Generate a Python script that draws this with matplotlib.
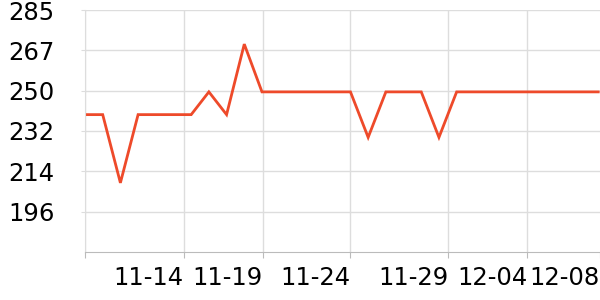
import numpy as np
import matplotlib
matplotlib.use("Agg")
import matplotlib.pyplot as plt

# daily values, one point per day
values = [239, 239, 209, 239, 239, 239, 239, 249, 239, 270,
          249, 249, 249, 249, 249, 249, 229, 249, 249, 249,
          229, 249, 249, 249, 249, 249, 249, 249, 249, 249]
x_labels = ['', '11-14', '11-19', '11-24', '11-29', '12-04', '12-08']
y_min, y_max = 178.6, 285

line_color = '#EE4A2A'
grid_color = '#DDDDDD'
axis_color = '#BBBBBB'

fig = plt.figure(figsize=(6, 3), dpi=100)
ax = fig.add_axes([85 / 600, 48 / 300, 515 / 600, 242 / 300])

x = np.arange(len(values))
ax.plot(x, values, color=line_color, lw=2, solid_joinstyle='miter')

x_max = 29.1
ax.set_xlim(0, x_max)
ax.set_ylim(y_min, y_max)

# tick positions on the category axis (labels sit to the left of each tick)
xticks = [0, 5.59, 10.06, 14.99, 20.53, 24.99, x_max]
ax.set_xticks(xticks)
ax.set_xticklabels(x_labels, ha='right')

yticks = np.linspace(y_min, y_max, 7)[1:]
ax.set_yticks(yticks)
ax.set_yticklabels([f'{v:.0f}' for v in yticks])

ax.grid(True, color=grid_color, lw=1)
ax.set_axisbelow(True)
ax.get_xgridlines()[-1].set_visible(False)

for s in ['top', 'right']:
    ax.spines[s].set_visible(False)
ax.spines['left'].set_color(grid_color)
ax.spines['bottom'].set_color(axis_color)

ax.tick_params(axis='x', length=4, color=axis_color, labelsize=17.5, pad=6)
ax.tick_params(axis='y', length=3, color=grid_color, labelsize=17.5, pad=19)
ax.get_xticklabels()[-1].set_visible(True)

fig.savefig('out.png', dpi=100)
